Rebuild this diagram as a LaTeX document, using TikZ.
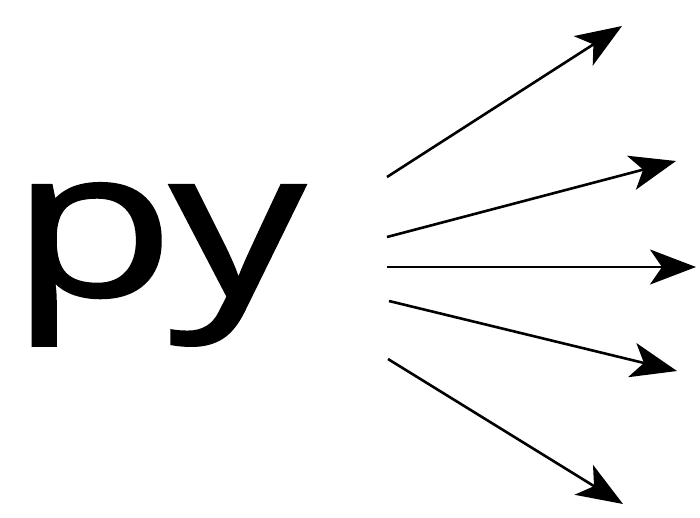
\documentclass[tikz,border=0pt]{standalone}
\usepackage{fontspec}
\setmainfont{Open Sans}
\usetikzlibrary{arrows.meta}
\begin{document}
\begin{tikzpicture}[x=1pt,y=-1pt,
  ray/.style={line width=2.6pt,-{Stealth[length=46pt,width=35pt,inset=12pt]}}]
\useasboundingbox (0,0) rectangle (700,517);
\node[inner sep=0pt,anchor=base west] (py) at (10,296) {\scalebox{1.3}[1.0]{\fontsize{207}{207}\selectfont\addfontfeature{FakeBold=1.2}py}};
\coordinate (s1) at (387,177); \coordinate (t1) at (622,26);
\coordinate (s2) at (387,237); \coordinate (t2) at (676,161);
\coordinate (s3) at (387,267); \coordinate (t3) at (696,267);
\coordinate (s4) at (389,301); \coordinate (t4) at (677,371);
\coordinate (s5) at (388,359); \coordinate (t5) at (623,504);
\foreach \i in {1,...,5} \draw[ray] (s\i) -- (t\i);
\end{tikzpicture}
\end{document}
